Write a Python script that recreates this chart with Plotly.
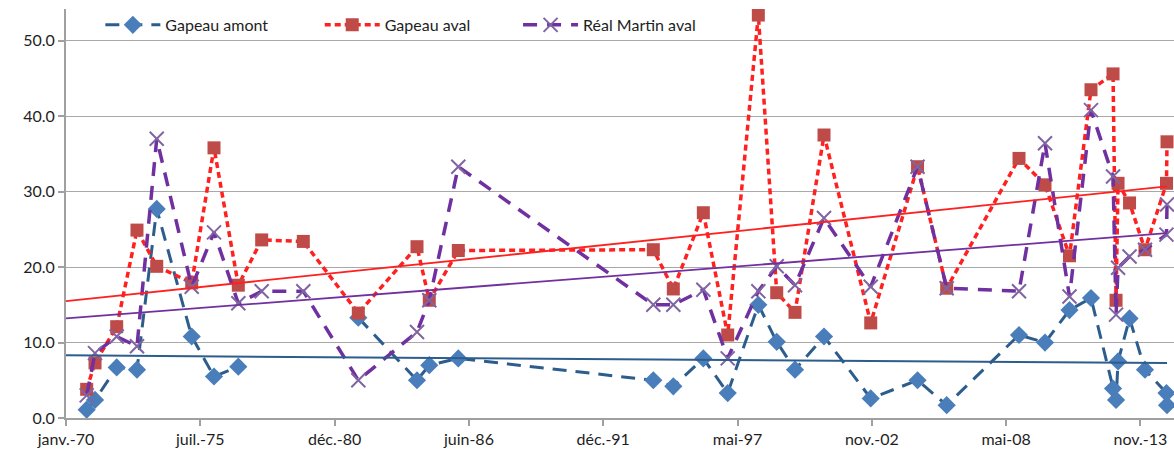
## Concentration time series with linear trends - Gapeau / Réal Martin
import pandas as pd
import plotly.graph_objects as go

## Data
dates = ["1970-11-16", "1971-03-20", "1972-02-06", "1972-12-04", "1973-09-24",
    "1975-02-27", "1976-01-25", "1977-01-21", "1978-01-04", "1979-09-16",
    "1981-12-13", "1984-05-05", "1984-11-04", "1986-01-10", "1993-12-23",
    "1994-10-17", "1996-01-07", "1997-01-04", "1998-04-05", "1999-01-04",
    "1999-10-03", "2000-12-08", "2002-11-04", "2004-10-01", "2005-12-09",
    "2008-11-20", "2009-12-12", "2010-12-12", "2011-10-28", "2012-09-20",
    "2012-11-04", "2012-12-04", "2013-05-24", "2014-01-09", "2014-11-25",
    "2014-12-03"]
gapeau_amont = [1.1, 2.4, 6.7, 6.4, 27.7, 10.8, 5.5, 6.8, None, None,
    13.3, 5.0, 7.0, 7.9, 5.0, 4.2, 7.9, 3.3, 15.0, 10.1,
    6.4, 10.8, 2.6, 5.0, 1.7, 11.0, 10.0, 14.3, 15.9, 3.9,
    2.4, 7.5, 13.2, 6.4, 3.3, 1.7]
gapeau_aval = [3.8, 7.3, 12.1, 24.9, 20.1, 17.9, 35.8, 17.6, 23.6, 23.4,
    13.9, 22.7, 15.6, 22.2, 22.3, 17.1, 27.2, 11.0, 53.4, 16.6,
    14.0, 37.5, 12.6, 33.3, 17.2, 34.4, 30.9, 21.5, 43.5, 45.6,
    15.6, 31.1, 28.5, 22.3, 31.1, 36.6]
real_martin_aval = [3.0, 8.6, 10.8, 9.5, 37.0, 17.4, 24.6, 15.2, 16.8, 16.8,
    5.0, 11.4, 15.6, 33.3, 15.0, 15.0, 17.0, 7.9, 16.8, 20.1,
    17.6, 26.5, 17.4, 33.3, 17.2, 16.8, 36.4, 16.1, 40.8, 32.0,
    13.7, 19.9, 21.4, 22.3, 24.3, 28.3]

# linear trend lines (start / end values)
trend_dates = ["1970-01-12", "2014-12-03"]
trend_amont = [8.3, 7.3]
trend_aval = [15.5, 30.7]
trend_rm = [13.2, 24.5]

tick_text = ["janv.-70", "juil.-75", "déc.-80", "juin-86", "déc.-91",
    "mai-97", "nov.-02", "mai-08", "nov.-13"]
y_ticks = [0, 10, 20, 30, 40, 50]

#-------------------------------------------------------------------------------
axis_start = pd.Timestamp("1970-01-12")
tick_vals = [axis_start + pd.Timedelta(days=2000 * k)
    for k in range(len(tick_text))]

FONT = "Lato, 'Open Sans', sans-serif"
TXT = "#1E1E1E"

fig = go.Figure()
fig.add_trace(go.Scatter(x=dates, y=gapeau_amont, name="Gapeau amont",
    mode="lines+markers", connectgaps=False, legend="legend",
    line=dict(color="#2C5D8C", width=3, dash="14px,9px"),
    marker=dict(symbol="diamond", size=14, color="#4A7EBB")))
fig.add_trace(go.Scatter(x=dates, y=gapeau_aval, name="Gapeau aval",
    mode="lines+markers", legend="legend2",
    line=dict(color="#FF2020", width=3.5, dash="6px,4px"),
    marker=dict(symbol="square", size=13, color="#BE4B48")))
fig.add_trace(go.Scatter(x=dates, y=real_martin_aval, name="Réal Martin aval",
    mode="lines+markers", legend="legend3",
    line=dict(color="#7030A0", width=3.5, dash="14px,10px"),
    marker=dict(symbol="x-thin", size=14,
        line=dict(color="#8064A2", width=2))))

# trend lines
for vals, col, w in [(trend_amont, "#2C5D8C", 2), (trend_aval, "#FF2020", 1.8),
        (trend_rm, "#7030A0", 1.8)]:
    fig.add_trace(go.Scatter(x=trend_dates, y=vals, mode="lines",
        showlegend=False, hoverinfo="skip", line=dict(color=col, width=w)))

leg = dict(orientation="h", y=0.961, xanchor="left", yanchor="middle",
    bgcolor="rgba(255,255,255,0)", itemwidth=55,
    font=dict(family=FONT, size=16, color=TXT))
fig.update_layout(width=1174, height=454,
    margin=dict(l=66, r=0, t=9, b=36),
    paper_bgcolor="white", plot_bgcolor="white",
    font=dict(family=FONT, size=16, color=TXT),
    legend=dict(leg, x=0.031),
    legend2=dict(leg, x=0.229),
    legend3=dict(leg, x=0.408),
    xaxis=dict(type="date", range=["1970-01-12", "2015-03-17"],
        tickvals=tick_vals, ticktext=tick_text, showgrid=False,
        showline=True, linecolor="#A0A0A0", linewidth=2,
        ticks="outside", ticklen=6, tickcolor="#A0A0A0", tickwidth=1.5,
        tickfont=dict(size=16), zeroline=False),
    yaxis=dict(range=[0, 54.2], tickvals=y_ticks, tickformat=".1f",
        showgrid=True, gridcolor="#A8A8A8", gridwidth=1.3,
        showline=True, linecolor="#A0A0A0", linewidth=2,
        ticks="outside", ticklen=6, tickcolor="#A0A0A0", tickwidth=1.5,
        tickfont=dict(size=16), zeroline=False))

fig.write_html("out.html", config={"displayModeBar": False},
    post_script="document.body.style.margin='0';")
